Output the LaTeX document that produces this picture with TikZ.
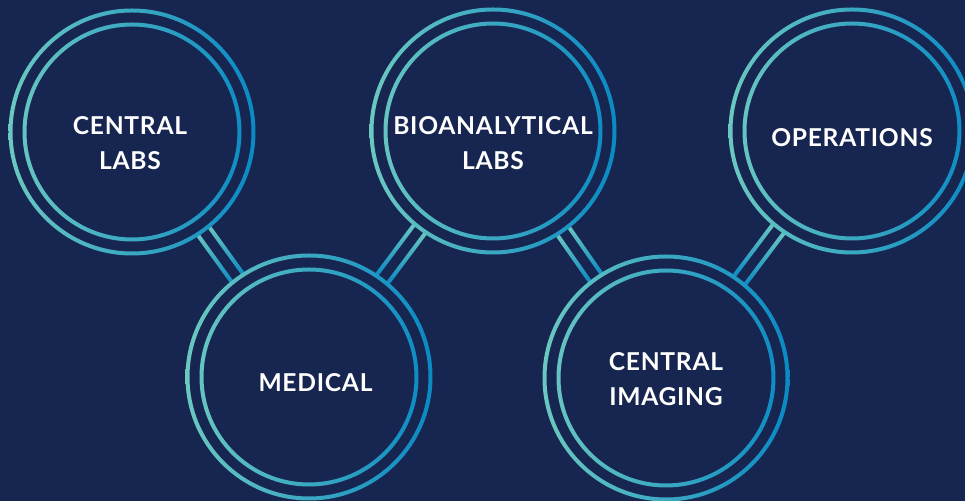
\documentclass[tikz,border=0pt]{standalone}
\usepackage{fontspec}
\setmainfont{Lato}[LetterSpace=3]
\usetikzlibrary{calc}

\definecolor{navy}{HTML}{172650}
\definecolor{ringteal}{HTML}{6BC8C1}
\definecolor{ringblue}{HTML}{0A89C3}

\begin{document}
\begin{tikzpicture}[
    hub/.style={circle, minimum size=4.94cm, inner sep=0pt},
    caption/.style={text=white, align=center, inner sep=0pt, font=\fontsize{14}{19.9}\selectfont\bfseries},
    bar/.style={top color=ringteal, bottom color=ringblue},
    ring/.style={left color=ringteal, right color=ringblue, even odd rule}
]

% Background
\fill[navy] (0,0) rectangle (19.3,10.02);
\useasboundingbox (0,0) rectangle (19.3,10.02);

% Hubs
\node[hub] (labs) at (2.64,7.38) {};
\node[hub] (medical) at (6.18,2.48) {};
\node[hub] (bio) at (9.86,7.40) {};
\node[hub] (imaging) at (13.32,2.46) {};
\node[hub] (ops) at (17.04,7.40) {};

% Links, two bars each
\foreach \a/\b in {labs/medical, bio/medical, bio/imaging, ops/imaging} {
  \coordinate (p) at ($(\a)!2.43cm!(\b)$);
  \coordinate (q) at ($(\b)!2.43cm!(\a)$);
  \foreach \r/\t in {90/-90, -90/90}
    \shade[bar] ($(p)!0.10cm!\r:(q)$) -- ($(p)!0.18cm!\r:(q)$)
      -- ($(q)!0.18cm!\t:(p)$) -- ($(q)!0.10cm!\t:(p)$) -- cycle;
}

% Double rings
\foreach \h in {labs, medical, bio, imaging, ops}
  \shade[ring] (\h) circle[radius=2.47cm] circle[radius=2.39cm]
    circle[radius=2.19cm] circle[radius=2.11cm];

% Captions
\node[caption] (labstext) at ([xshift=-0.04cm, yshift=-0.23cm]labs.center) {CENTRAL\\LABS};
\node[caption] (medicaltext) at ([xshift=0.13cm, yshift=-0.12cm]medical.center) {MEDICAL};
\node[caption] (biotext) at ([yshift=-0.25cm]bio.center) {BIOANALYTICAL\\LABS};
\node[caption] (imagingtext) at ([yshift=-0.03cm]imaging.center) {CENTRAL\\IMAGING};
\node[caption] (opstext) at ([yshift=-0.14cm]ops.center) {OPERATIONS};

\end{tikzpicture}
\end{document}
